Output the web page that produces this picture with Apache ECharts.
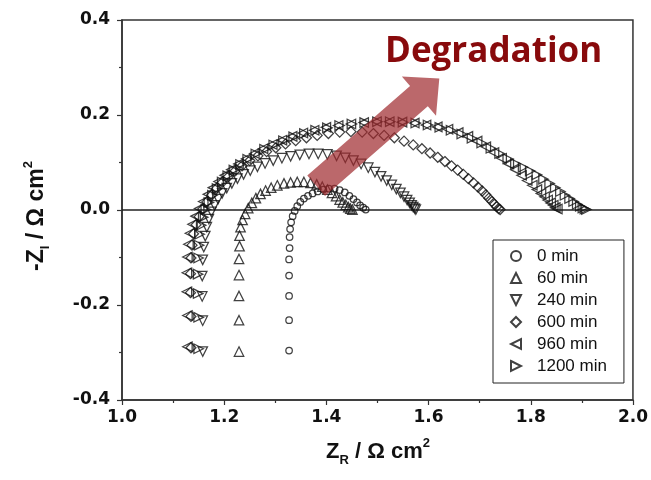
<!DOCTYPE html>
<html>
<head>
<meta charset="utf-8">
<script src="https://cdn.jsdelivr.net/npm/echarts@6/dist/echarts.min.js"></script>
<style>html,body{margin:0;padding:0;background:#fff;}#c{width:651px;height:480px;}</style>
</head>
<body>
<div id="c"></div>
<script>
// ---- data ----
const seriesNames = ['0 min', '60 min', '240 min', '600 min', '960 min', '1200 min'];

const x0 = [1.327,1.327,1.327,1.327,1.327,1.328,1.328,1.329,1.331,1.334,1.338,1.343,1.349,1.356,1.364,1.373,1.383,1.394,1.405,1.416,1.426,1.436,1.445,1.453,1.460,1.466,1.472,1.477];
const y0 = [-0.296,-0.232,-0.181,-0.138,-0.104,-0.080,-0.057,-0.040,-0.026,-0.013,-0.002,0.008,0.017,0.024,0.030,0.035,0.039,0.043,0.045,0.045,0.042,0.037,0.030,0.023,0.016,0.010,0.005,0.001];

const x60 = [1.229,1.229,1.229,1.229,1.229,1.230,1.230,1.232,1.236,1.241,1.247,1.254,1.262,1.271,1.281,1.292,1.304,1.317,1.330,1.343,1.356,1.369,1.381,1.392,1.402,1.411,1.419,1.426,1.432,1.438,1.443,1.447,1.451];
const y60 = [-0.298,-0.232,-0.181,-0.137,-0.103,-0.076,-0.054,-0.036,-0.021,-0.008,0.004,0.015,0.025,0.034,0.041,0.047,0.052,0.056,0.058,0.059,0.059,0.057,0.054,0.049,0.043,0.036,0.029,0.022,0.016,0.011,0.006,0.003,0.001];

const x240 = [1.158,1.158,1.157,1.157,1.158,1.160,1.163,1.166,1.170,1.175,1.181,1.188,1.196,1.205,1.215,1.226,1.238,1.251,1.265,1.280,1.296,1.313,1.330,1.348,1.366,1.384,1.402,1.420,1.437,1.453,1.468,1.482,1.495,1.507,1.518,1.528,1.537,1.545,1.552,1.558,1.563,1.567,1.570,1.573,1.575];
const y240 = [-0.298,-0.233,-0.182,-0.139,-0.105,-0.078,-0.055,-0.036,-0.019,-0.004,0.010,0.023,0.035,0.046,0.056,0.066,0.075,0.083,0.091,0.098,0.104,0.109,0.113,0.116,0.118,0.118,0.117,0.114,0.110,0.104,0.097,0.089,0.080,0.071,0.062,0.053,0.044,0.036,0.028,0.021,0.015,0.010,0.006,0.003,0.001];

const x600 = [1.135,1.135,1.134,1.134,1.135,1.137,1.140,1.145,1.151,1.158,1.166,1.175,1.185,1.196,1.208,1.221,1.235,1.250,1.266,1.283,1.301,1.320,1.340,1.361,1.382,1.404,1.426,1.448,1.470,1.492,1.513,1.533,1.552,1.570,1.587,1.603,1.618,1.632,1.645,1.657,1.668,1.678,1.688,1.697,1.705,1.712,1.718,1.724,1.729,1.733,1.737,1.740];
const y600 = [-0.290,-0.224,-0.174,-0.134,-0.101,-0.074,-0.050,-0.031,-0.014,0.002,0.017,0.031,0.045,0.058,0.070,0.082,0.093,0.104,0.114,0.123,0.131,0.139,0.146,0.152,0.157,0.161,0.164,0.165,0.164,0.161,0.157,0.152,0.145,0.137,0.129,0.120,0.111,0.102,0.093,0.084,0.075,0.066,0.057,0.048,0.040,0.032,0.025,0.018,0.012,0.007,0.003,0.001];

const x960 = [1.128,1.128,1.127,1.127,1.128,1.130,1.133,1.138,1.144,1.151,1.159,1.168,1.178,1.189,1.201,1.214,1.228,1.243,1.259,1.276,1.294,1.313,1.333,1.354,1.376,1.399,1.423,1.448,1.473,1.498,1.523,1.548,1.572,1.595,1.617,1.638,1.658,1.677,1.695,1.712,1.728,1.743,1.757,1.770,1.782,1.793,1.803,1.812,1.820,1.827,1.833,1.839,1.844,1.848,1.852];
const y960 = [-0.288,-0.222,-0.172,-0.132,-0.099,-0.072,-0.049,-0.030,-0.013,0.003,0.018,0.033,0.047,0.060,0.073,0.085,0.097,0.108,0.119,0.129,0.138,0.147,0.155,0.162,0.168,0.174,0.178,0.181,0.184,0.186,0.186,0.185,0.183,0.179,0.175,0.170,0.163,0.155,0.145,0.133,0.121,0.109,0.097,0.085,0.073,0.062,0.052,0.043,0.035,0.028,0.021,0.015,0.010,0.005,0.002];

const x1200 = [1.150,1.150,1.149,1.149,1.150,1.151,1.152,1.155,1.159,1.164,1.170,1.177,1.186,1.196,1.207,1.219,1.232,1.246,1.262,1.279,1.297,1.316,1.336,1.357,1.379,1.402,1.426,1.450,1.475,1.500,1.525,1.550,1.575,1.599,1.622,1.644,1.665,1.685,1.704,1.722,1.739,1.755,1.770,1.785,1.799,1.812,1.825,1.837,1.848,1.858,1.867,1.876,1.884,1.891,1.897,1.902,1.906,1.909];
const y1200 = [-0.292,-0.226,-0.176,-0.135,-0.101,-0.074,-0.051,-0.032,-0.015,0.001,0.016,0.031,0.045,0.059,0.072,0.084,0.096,0.107,0.118,0.128,0.137,0.146,0.154,0.161,0.168,0.173,0.178,0.181,0.184,0.186,0.186,0.185,0.183,0.179,0.174,0.168,0.160,0.151,0.141,0.130,0.119,0.108,0.098,0.090,0.082,0.074,0.065,0.056,0.047,0.039,0.031,0.024,0.018,0.012,0.008,0.004,0.002,0.001];

const xTickLabels = ['1.0', '1.2', '1.4', '1.6', '1.8', '2.0'];
const yTickLabels = ['-0.4', '-0.2', '0.0', '0.2', '0.4'];
const zeroLineX = [1.0, 2.0];
const zeroLineY = [0, 0];
const arrowTail = [1.380, 0.051];
const arrowTip = [1.621, 0.277];
// ---------------------------------------------------

function zip(xs, ys) {
  const n = Math.min(xs.length, ys.length), out = [];
  for (let i = 0; i < n; i++) out.push([xs[i], ys[i]]);
  return out;
}

const xsAll = [x0, x60, x240, x600, x960, x1200];
const ysAll = [y0, y60, y240, y600, y960, y1200];
const symbols = ['circle', 'triangle', 'triangle', 'diamond', 'triangle', 'triangle'];
const rotations = [0, 0, 180, 0, 90, -90];
const sizes = [6.5, 9.5, 9.5, 10, 9.5, 9.5];
// legend icon shapes (same marker shapes, drawn un-rotated as paths)
const legendIcons = [
  'circle',
  'path://M5,0 L10,10 L0,10 Z',
  'path://M0,0 L10,0 L5,10 Z',
  'diamond',
  'path://M10,0 L10,10 L0,5 Z',
  'path://M0,0 L10,5 L0,10 Z'
];

const chart = echarts.init(document.getElementById('c'), null, { renderer: 'canvas' });

const series = seriesNames.map((name, i) => ({
  name: name,
  type: 'scatter',
  data: zip(xsAll[i], ysAll[i]),
  symbol: symbols[i],
  symbolRotate: rotations[i],
  symbolSize: sizes[i],
  itemStyle: { color: 'rgba(255,255,255,0)', borderColor: '#111', borderWidth: 1.25 },
  emphasis: { disabled: true },
  z: 3
}));

series.unshift({
  name: 'zero',
  type: 'line',
  data: zip(zeroLineX, zeroLineY),
  symbol: 'none',
  lineStyle: { color: '#222', width: 1.5 },
  silent: true,
  z: 2
});

const option = {
  animation: false,
  backgroundColor: '#fff',
  grid: { left: 122, right: 17, top: 20, bottom: 80, show: true, borderColor: '#333', borderWidth: 1.5, backgroundColor: 'transparent' },
  xAxis: {
    type: 'value', min: 1.0, max: 2.0, interval: 0.2,
    axisLine: { show: true, onZero: false, lineStyle: { color: '#333', width: 1.5 } },
    axisTick: { show: true, inside: false, length: 5, lineStyle: { color: '#333', width: 1.2 } },
    minorTick: { show: true, splitNumber: 2, length: 3, lineStyle: { color: '#333', width: 1.2 } },
    splitLine: { show: false },
    axisLabel: {
      margin: 9, fontFamily: 'DejaVu Sans', fontWeight: 'bold', fontSize: 17, color: '#111',
      formatter: v => xTickLabels[Math.round((v - 1.0) / 0.2)]
    }
  },
  yAxis: {
    type: 'value', min: -0.4, max: 0.4, interval: 0.2,
    axisLine: { show: true, onZero: false, lineStyle: { color: '#333', width: 1.5 } },
    axisTick: { show: true, inside: false, length: 5, lineStyle: { color: '#333', width: 1.2 } },
    minorTick: { show: true, splitNumber: 2, length: 3, lineStyle: { color: '#333', width: 1.2 } },
    splitLine: { show: false },
    axisLabel: {
      margin: 12, fontFamily: 'DejaVu Sans', fontWeight: 'bold', fontSize: 17, color: '#111',
      formatter: v => yTickLabels[Math.round((v + 0.4) / 0.2)]
    }
  },
  legend: {
    data: seriesNames.map((n, i) => ({ name: n, icon: legendIcons[i] })),
    orient: 'vertical',
    left: 493, top: 240,
    padding: [6, 17, 7, 17],
    itemWidth: 10, itemHeight: 10, itemGap: 2,
    borderColor: '#222', borderWidth: 1, backgroundColor: '#fff',
    textStyle: { fontFamily: 'Liberation Sans', fontSize: 17, color: '#111', lineHeight: 20, padding: [0, 0, 0, 11] },
    selectedMode: false,
    z: 10
  },
  graphic: [
    {
      id: 'xtitle', type: 'text', x: 378, y: 452, z: 20,
      style: {
        text: '{m|Z}{s|R}{m| / Ω cm}{p|2}',
        align: 'center', verticalAlign: 'middle',
        rich: {
          m: { fontFamily: 'Liberation Sans', fontWeight: 'bold', fontSize: 22, lineHeight: 30, verticalAlign: 'middle', fill: '#111' },
          s: { fontFamily: 'Liberation Sans', fontWeight: 'bold', fontSize: 13, lineHeight: 6, verticalAlign: 'bottom', fill: '#111' },
          p: { fontFamily: 'Liberation Sans', fontWeight: 'bold', fontSize: 13, lineHeight: 2, verticalAlign: 'top', fill: '#111' }
        }
      }
    },
    {
      id: 'ytitle', type: 'text', x: 37, y: 216, rotation: Math.PI / 2, z: 20,
      style: {
        text: '{m|-Z}{s|I}{m| / Ω cm}{p|2}',
        align: 'center', verticalAlign: 'middle',
        rich: {
          m: { fontFamily: 'Liberation Sans', fontWeight: 'bold', fontSize: 23, lineHeight: 30, verticalAlign: 'middle', fill: '#111' },
          s: { fontFamily: 'Liberation Sans', fontWeight: 'bold', fontSize: 13, lineHeight: 6, verticalAlign: 'bottom', fill: '#111' },
          p: { fontFamily: 'Liberation Sans', fontWeight: 'bold', fontSize: 13, lineHeight: 2, verticalAlign: 'top', fill: '#111' }
        }
      }
    },
    {
      id: 'degr', type: 'text', x: 385, y: 52, z: 20,
      style: {
        text: 'Degradation', fill: '#880a0c',
        font: 'bold 35px "Open Sans"', align: 'left', verticalAlign: 'middle'
      }
    }
  ],
  series: series
};

chart.setOption(option);

// semi-transparent annotation arrow, placed from data coordinates
const p0 = chart.convertToPixel({ gridIndex: 0 }, arrowTail);
const p1 = chart.convertToPixel({ gridIndex: 0 }, arrowTip);
const dx = p1[0] - p0[0], dy = p1[1] - p0[1];
const len = Math.sqrt(dx * dx + dy * dy);
const ux = dx / len, uy = dy / len, nx = -uy, ny = ux;
const shaftHalf = 13.5, headHalf = 26, headLen = 27;
const bx = p1[0] - ux * headLen, by = p1[1] - uy * headLen;
const pts = [
  [p0[0] + nx * shaftHalf, p0[1] + ny * shaftHalf],
  [bx + nx * shaftHalf, by + ny * shaftHalf],
  [bx + nx * headHalf, by + ny * headHalf],
  [p1[0], p1[1]],
  [bx - nx * headHalf, by - ny * headHalf],
  [bx - nx * shaftHalf, by - ny * shaftHalf],
  [p0[0] - nx * shaftHalf, p0[1] - ny * shaftHalf]
];
chart.setOption({
  graphic: [{ id: 'arrow', type: 'polygon', z: 15, shape: { points: pts }, style: { fill: 'rgba(158,40,44,0.7)' } }]
});
</script>
</body>
</html>
